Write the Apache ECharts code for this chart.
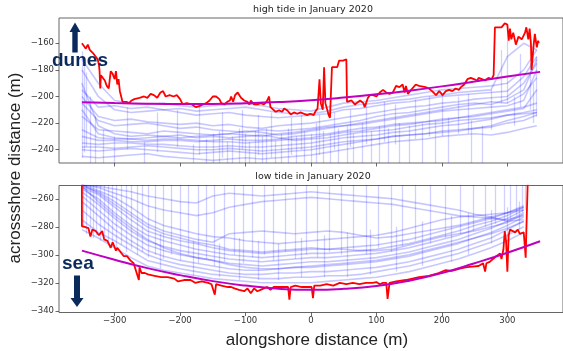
<!DOCTYPE html>
<html>
<head>
<meta charset="utf-8">
<script src="https://cdn.jsdelivr.net/npm/echarts@6/dist/echarts.min.js"></script>
<style>html,body{margin:0;padding:0;background:#fff;}#c{width:563px;height:351px;}</style>
</head>
<body>
<div id="c"></div>
<script>
// ---------- data ----------
const xTicks = [-300, -200, -100, 0, 100, 200, 300];
const yTicksHigh = [-240, -220, -200, -180, -160];
const yTicksLow = [-340, -320, -300, -280, -260];

const xHigh = [-350,-325,-300,-275,-250,-225,-200,-175,-150,-125,-100,-75,-50,-25,0,25,50,75,100,125,150,175,200,225,250,275,300,325,345];
const xLow  = [-350,-325,-300,-275,-250,-225,-200,-175,-150,-125,-100,-75,-50,-25,0,25,50,75,100,125,150,175,200,225,250,275,300,325];

// individual shorelines (blue), high tide
const blueHigh = [
 [-172,-190,-203,-205,-206,-205,-207,-208,-207,-206,-205,-207,-209,-210,-211,-208,-205,-204,-203,-201,-199,-197,-195,-194,-193,-192,-190,-180,-165],
 [-180,-200,-210,-212,-211,-210,-212,-214,-213,-212,-214,-215,-216,-215,-214,-213,-210,-209,-207,-205,-204,-202,-200,-199,-198,-197,-196,-185,-170],
 [-200,-215,-218,-217,-219,-220,-221,-220,-222,-221,-223,-224,-222,-221,-220,-218,-216,-214,-212,-210,-208,-207,-205,-204,-202,-201,-200,-190,-175],
 [-215,-225,-226,-227,-228,-226,-227,-228,-229,-228,-229,-230,-228,-227,-225,-223,-222,-221,-219,-217,-215,-213,-211,-210,-209,-208,-207,-203,-180],
 [-225,-231,-232,-232,-233,-232,-232,-233,-234,-234,-235,-234,-233,-232,-231,-229,-227,-226,-224,-222,-221,-219,-218,-216,-215,-213,-211,-209,-195],
 [-230,-233,-233,-234,-234,-233,-233,-234,-233,-232,-233,-233,-232,-230,-229,-228,-226,-224,-223,-221,-220,-219,-217,-216,-214,-212,-210,-208,-205],
 [-235,-236,-235,-235,-236,-236,-237,-238,-238,-237,-238,-238,-237,-236,-235,-233,-231,-230,-229,-227,-226,-224,-222,-221,-219,-217,-214,-212,-210],
 [-240,-241,-240,-239,-240,-241,-242,-243,-242,-241,-242,-243,-242,-241,-240,-238,-236,-234,-232,-230,-229,-228,-226,-225,-224,-223,-220,-218,-214],
 [-245,-246,-245,-244,-243,-245,-246,-247,-248,-247,-246,-247,-246,-245,-244,-242,-240,-238,-236,-234,-233,-232,-230,-229,-228,-229,-227,-224,-222],
 [-190,-222,-228,-230,-229,-230,-231,-230,-229,-228,-226,-227,-229,-228,-226,-224,-222,-220,-218,-216,-214,-212,-210,-208,-206,-204,-205,-198,-186],
 [-205,-218,-222,-221,-220,-222,-224,-223,-225,-226,-227,-225,-226,-225,-224,-222,-220,-218,-215,-213,-212,-210,-208,-206,-205,-206,-202,-195,-172],
 [-210,-228,-231,-232,-231,-230,-229,-231,-230,-231,-230,-229,-231,-233,-232,-231,-229,-227,-226,-225,-223,-221,-220,-218,-217,-216,-214,-213,-212],
 [-238,-238,-239,-238,-237,-238,-239,-240,-240,-239,-240,-241,-240,-239,-238,-236,-234,-233,-232,-230,-229,-228,-227,-226,-224,-222,-218,-215,-212],
 [-195,-208,-207,-209,-208,-210,-209,-211,-210,-209,-208,-210,-212,-213,-213,-211,-208,-206,-205,-203,-202,-200,-199,-197,-196,-195,-170,-160,-165]
];
// vertical jumps in the blue shorelines, high tide: [x, from, to]
const jumpsHigh = [
 [-349,-166,-246],[-346,-172,-242],[-343,-182,-238],[-338,-200,-250],[-330,-215,-250],[-318,-225,-250],[-300,-230,-250],
 [-255,-234,-250],[-180,-236,-250],[-160,-232,-250],[-150,-228,-250],[-140,-226,-250],[-128,-234,-250],[-120,-230,-250],
 [-110,-224,-250],[-100,-228,-250],[-95,-234,-250],[-85,-226,-250],[-75,-230,-250],[-68,-224,-250],[-55,-233,-250],
 [-45,-228,-250],[-35,-224,-250],[-22,-230,-250],[-10,-226,-250],[0,-228,-250],[8,-220,-250],[18,-226,-250],[30,-228,-250],
 [42,-224,-250],[55,-222,-250],[65,-228,-250],[78,-220,-250],[92,-226,-250],[105,-222,-250],[118,-224,-250],[135,-220,-250],
 [150,-222,-250],[170,-220,-250],[190,-218,-250],[210,-216,-250],[245,-218,-250],[262,-222,-250],
 [290,-205,-165],[300,-205,-158],[320,-208,-168],[335,-210,-175],
 [-280,-208,-240],[-235,-212,-242],[-205,-210,-238],[-170,-206,-244],[-135,-212,-246],[-105,-210,-240],[-80,-214,-244],
 [-60,-212,-246],[-30,-216,-244],[-15,-214,-240],[12,-214,-244],[36,-212,-240],[60,-210,-238],[85,-206,-236],[112,-204,-234],
 [128,-206,-236],[160,-202,-232],[180,-200,-230],[200,-198,-230],[225,-200,-228],[240,-198,-228],[275,-195,-225],[310,-200,-222],
 [340,-190,-220],[344,-170,-215]
];

// individual shorelines (blue), low tide
const blueLow = [
 [-282,-288,-295,-302,-308,-311,-313,-315,-317,-318,-319,-320,-320,-320,-320,-319,-318,-317,-316,-314,-312,-309,-306,-303,-299,-295,-290,-284],
 [-275,-284,-290,-297,-304,-307,-310,-312,-314,-315,-316,-317,-317,-316,-316,-315,-315,-314,-312,-310,-308,-305,-302,-299,-295,-291,-286,-280],
 [-268,-278,-286,-293,-300,-304,-307,-309,-311,-313,-314,-314,-313,-313,-312,-312,-311,-310,-309,-307,-305,-302,-299,-296,-292,-288,-282,-276],
 [-262,-272,-282,-290,-297,-301,-304,-306,-308,-310,-311,-311,-310,-309,-309,-308,-307,-306,-305,-303,-301,-298,-295,-292,-288,-284,-279,-273],
 [-258,-268,-278,-286,-293,-297,-300,-302,-304,-306,-307,-308,-307,-306,-305,-305,-304,-303,-302,-300,-298,-295,-292,-289,-285,-281,-276,-270],
 [-255,-264,-274,-283,-290,-294,-297,-299,-301,-303,-304,-305,-304,-303,-302,-302,-301,-300,-299,-297,-295,-292,-289,-286,-282,-278,-274,-268],
 [-253,-260,-270,-279,-286,-290,-293,-296,-298,-300,-301,-302,-301,-300,-299,-299,-298,-297,-296,-294,-292,-289,-286,-283,-279,-276,-272,-266],
 [-252,-257,-266,-275,-283,-287,-290,-292,-295,-297,-298,-299,-298,-297,-296,-296,-295,-294,-293,-291,-289,-286,-283,-280,-277,-274,-270,-265],
 [-251,-255,-262,-270,-278,-283,-286,-289,-291,-285,-284,-283,-284,-285,-284,-283,-284,-286,-288,-287,-285,-283,-281,-279,-276,-273,-270,-266],
 [-250,-254,-259,-266,-274,-279,-282,-285,-287,-288,-290,-291,-292,-291,-290,-289,-288,-287,-286,-284,-281,-278,-275,-273,-272,-271,-270,-268],
 [-250,-252,-256,-260,-265,-268,-270,-272,-270,-266,-264,-262,-261,-260,-259,-260,-261,-262,-263,-264,-266,-268,-270,-272,-273,-274,-275,-272],
 [-250,-251,-253,-255,-258,-260,-262,-263,-258,-256,-257,-258,-257,-256,-255,-256,-257,-258,-259,-260,-262,-264,-266,-268,-271,-273,-276,-275],
 [-250,-256,-264,-272,-280,-285,-288,-291,-293,-296,-297,-298,-297,-296,-295,-296,-296,-297,-297,-296,-293,-290,-287,-285,-283,-280,-277,-271],
 [-251,-262,-272,-281,-289,-295,-299,-302,-304,-307,-309,-310,-310,-309,-308,-307,-306,-305,-304,-302,-300,-297,-294,-291,-288,-285,-281,-276]
];
// vertical jumps in the blue shorelines, low tide: [x, from, to]
const jumpsLow = [
 [-348,-280,-250],[-343,-285,-250],[-338,-282,-250],[-333,-288,-250],[-328,-286,-250],[-322,-290,-250],[-316,-288,-250],
 [-310,-292,-250],[-304,-294,-250],[-297,-296,-250],[-290,-293,-250],[-282,-298,-250],[-275,-296,-250],[-266,-300,-250],
 [-258,-298,-250],[-248,-302,-250],[-238,-300,-250],[-226,-303,-250],[-214,-300,-250],[-200,-304,-250],[-188,-300,-250],
 [-172,-306,-250],[-160,-303,-250],[-148,-308,-250],[-132,-305,-250],[-118,-300,-250],[-104,-306,-250],[-90,-302,-250],
 [-72,-300,-250],[-58,-304,-250],[-40,-298,-250],[-24,-303,-250],[-8,-300,-250],[10,-302,-250],[28,-298,-250],[46,-300,-250],
 [64,-296,-250],[84,-300,-250],[102,-295,-250],[122,-298,-250],[140,-294,-250],[160,-290,-250],[182,-292,-250],[205,-288,-250],
 [228,-285,-250],[248,-283,-250],[266,-280,-250],[282,-278,-250],[295,-276,-250],[305,-275,-250],[314,-272,-250],[322,-270,-250],[327,-268,-250],
 [-230,-285,-310],[-180,-290,-315],[-140,-292,-316],[-110,-288,-318],[-80,-290,-318],[-50,-292,-318],[-15,-288,-316],[20,-286,-316],
 [55,-284,-316],[90,-282,-314],[130,-280,-312],[170,-276,-308],[215,-272,-305],[240,-270,-300],[275,-268,-292],[300,-266,-288],[318,-262,-282]
];

// January 2020 shoreline (red)
const redHigh = [
 [-350,-160],[-347,-162],[-344,-164],[-341,-161],[-338,-165],[-335,-164],[-332,-168],[-329,-167],[-326,-172],[-324,-176],[-323,-181],[-322,-194],[-321,-184],[-318,-185],[-315,-188],[-312,-192],[-309,-194],[-306,-181],[-303,-183],[-300,-187],[-298,-181],[-296,-191],[-294,-187],[-292,-196],[-290,-200],[-288,-204],[-286,-205],[-282,-204],[-278,-205],[-274,-203],[-270,-202],[-262,-201],[-255,-200],[-250,-201],[-245,-198],[-240,-199],[-235,-201],[-230,-197],[-226,-196],[-222,-200],[-216,-199],[-210,-200],[-205,-199],[-200,-202],[-196,-206],[-190,-205],[-182,-206],[-176,-208],[-170,-207],[-165,-206],[-160,-205],
 [-155,-203],[-150,-200],[-145,-200],[-140,-202],[-137,-205],[-132,-206],[-128,-204],[-124,-203],[-122,-200],[-119,-204],[-116,-199],[-112,-197],[-109,-198],[-107,-201],[-102,-203],[-97,-204],[-94,-206],[-92,-203],[-87,-206],[-82,-206],[-77,-205],[-72,-206],[-68,-204],[-64,-200],[-62,-208],[-59,-209],[-54,-211.5],[-49,-210.5],[-44,-211.5],[-41,-209],[-36,-210.5],[-31,-213.5],[-26,-212],[-21,-213],[-16,-212],[-11,-213],[-6,-214],[-1,-213],[4,-214],[7,-211],[10,-209],[13,-187],[15,-205],[18,-210],[20,-178],[22,-205],[27,-214],[29,-216],[32,-178],[34,-179],[40,-178],[43,-173],[49,-173],[54,-172],[55,-204],
 [57,-205],[62,-203],[67,-206],[75,-203],[80,-205],[82,-208],[87,-201],[90,-199],[95,-199],[100,-200],[105,-197],[110,-195],[115,-197],[118,-196],[120,-198],[125,-197],[130,-192],[135,-193],[140,-191],[143,-197],[145,-192],[148,-198],[153,-195],[155,-196],[160,-191],[165,-192],[168,-192],[175,-193],[180,-194],[185,-196],[191,-199],[196,-196],[201,-199],[206,-196],[211,-195],[216,-196],[221,-194],[226,-195],[229,-193],[234,-191],[239,-187],[244,-186],[249,-187],[254,-188],[256,-186],[261,-187],[266,-188],[271,-186],[276,-187],[279,-184],[281,-148],[291,-148],[296,-145],[300,-146],[302,-158],[304,-149],[306,-157],[309,-152],[313,-161],[317,-155],[322,-157],[327,-152],[329,-148],[332,-157],[334,-149],[336,-160],[337,-180],[340,-162],[342,-153],[345,-163],[347,-158],[348,-160]
];
const redLow = [
 [-350,-250],[-350,-279.6],[-346,-280],[-340,-281],[-337,-287],[-334,-282],[-329,-283],[-324,-286],[-319,-283],[-316,-289],[-311,-290],[-306,-295],[-303,-291],[-298,-297],[-296,-295],[-291,-298],[-286,-301],[-281,-301],[-276,-304],[-271,-306],[-263,-318],[-262,-309],[-259,-313],[-254,-313],[-249,-314],[-239,-315],[-229,-316],[-219,-316],[-209,-317],[-203,-319],[-194,-318],[-184,-318],[-177,-320],[-167,-319],[-157,-320],[-152,-321],[-147,-328.5],[-145,-321],[-137,-322],[-127,-323],[-122,-323],[-117,-324],[-110,-325],[-102,-326],[-97,-324],[-92,-327.5],[-87,-324],[-82,-326],[-77,-325],[-72,-324],[-67,-323],[-62,-325],[-57,-323],[-47,-323],[-35,-323],[-33,-332],[-31,-323],[-24,-322],[-14,-323],[-4,-323],[1,-323],[3,-331],[5,-322],[14,-322],[24,-321],[34,-322],[44,-320],[54,-321],[64,-320],[74,-321],[84,-320],[94,-320],[100,-319.5],[105,-321],[110,-320],[115,-320],[117,-331.5],[120,-320],[130,-319],[145,-318],[155,-317],[165,-316],[180,-315],[195,-313],[205,-311],[215,-311.5],[226,-310],[236,-309],[246,-308.5],[256,-308],[263,-306],[266,-312],[268,-306],[273,-305],[278,-303],[283,-301],[286,-302],[289,-299],[291,-303],[294,-296],[296,-283],[298,-290],[300,-312],[302,-286],[304,-282],[307,-283],[312,-284],[316,-282],[319,-285],[322,-286],[325,-284],[327,-284],[328,-302],[329,-283],[331,-250]
];

// fitted curve (magenta)
const fitX = [-350,-300,-250,-200,-150,-100,-50,0,50,100,150,200,250,300,350];
const fitHigh = [-204.3,-204.9,-205.4,-205.6,-205.6,-205.1,-204.2,-202.8,-200.8,-198.4,-195.6,-192.4,-188.8,-185.0,-181.5];
const fitLow  = [-297.0,-303.5,-309.5,-314.5,-318.8,-322.0,-324.2,-325.0,-324.3,-322.3,-318.5,-313.0,-306.0,-298.5,-290.3];

// ---------- chart ----------
const chart = echarts.init(document.getElementById('c'), null, {renderer: 'canvas'});
const minus = v => String(v).replace('-', '\u2212');
const tickFont = {fontSize: 8.5, color: '#333', fontFamily: 'DejaVu Sans', formatter: minus};
const BLUE = {color: '#0000ff', opacity: 0.22, width: 1.6};
const BLUEJ = {color: '#0000ff', opacity: 0.18, width: 1.3};

function xAxisCfg(gi, showLabels) {
  return {
    type: 'value', gridIndex: gi, min: -385, max: 385,
    axisLine: {show: false, onZero: false}, splitLine: {show: false},
    axisTick: {show: true, length: 3.5, lineStyle: {color: '#444', width: 0.8}, customValues: xTicks},
    axisLabel: Object.assign({show: showLabels, margin: 4, customValues: xTicks}, tickFont)
  };
}
function yAxisCfg(gi, mn, mx, ticks) {
  return {
    type: 'value', gridIndex: gi, min: mn, max: mx,
    axisLine: {show: false, onZero: false}, splitLine: {show: false},
    axisTick: {show: true, length: 3.5, lineStyle: {color: '#444', width: 0.8}, customValues: ticks},
    axisLabel: Object.assign({margin: 5, customValues: ticks}, tickFont)
  };
}

const series = [];
blueHigh.forEach(arr => series.push({
  type: 'line', xAxisIndex: 0, yAxisIndex: 0, symbol: 'none', silent: true,
  data: arr.map((v, i) => [xHigh[i], v]), lineStyle: BLUE
}));
series.push({
  type: 'lines', coordinateSystem: 'cartesian2d', xAxisIndex: 0, yAxisIndex: 0, silent: true,
  data: jumpsHigh.map(j => ({coords: [[j[0], j[1]], [j[0], j[2]]]})), lineStyle: BLUEJ
});
blueLow.forEach(arr => series.push({
  type: 'line', xAxisIndex: 1, yAxisIndex: 1, symbol: 'none', silent: true,
  data: arr.map((v, i) => [xLow[i], v]), lineStyle: BLUE
}));
series.push({
  type: 'lines', coordinateSystem: 'cartesian2d', xAxisIndex: 1, yAxisIndex: 1, silent: true,
  data: jumpsLow.map(j => ({coords: [[j[0], j[1]], [j[0], j[2]]]})), lineStyle: BLUEJ
});
series.push({type: 'line', xAxisIndex: 0, yAxisIndex: 0, symbol: 'none', data: redHigh, lineStyle: {color: '#ff0000', width: 1.8}});
series.push({type: 'line', xAxisIndex: 1, yAxisIndex: 1, symbol: 'none', data: redLow, lineStyle: {color: '#ff0000', width: 1.8}});
series.push({type: 'line', xAxisIndex: 0, yAxisIndex: 0, symbol: 'none', smooth: true, data: fitX.map((x, i) => [x, fitHigh[i]]), lineStyle: {color: '#bf00bf', width: 2}});
series.push({type: 'line', xAxisIndex: 1, yAxisIndex: 1, symbol: 'none', smooth: true, data: fitX.map((x, i) => [x, fitLow[i]]), lineStyle: {color: '#bf00bf', width: 2}});

const NAVY = '#0b2a5c';
chart.setOption({
  animation: false,
  backgroundColor: '#fff',
  grid: [
    {left: 59, top: 18, width: 509, height: 145, show: true, borderColor: '#666', borderWidth: 1, backgroundColor: 'transparent'},
    {left: 59, top: 185.5, width: 509, height: 127, show: true, borderColor: '#666', borderWidth: 1, backgroundColor: 'transparent'}
  ],
  xAxis: [xAxisCfg(0, false), xAxisCfg(1, true)],
  yAxis: [yAxisCfg(0, -250, -141, yTicksHigh), yAxisCfg(1, -341.2, -250.5, yTicksLow)],
  series: series,
  graphic: [
    {type: 'text', x: 313, y: 9.5, style: {text: 'high tide in January 2020', font: '9.5px "DejaVu Sans"', fill: '#222', align: 'center', verticalAlign: 'middle'}},
    {type: 'text', x: 313, y: 177, style: {text: 'low tide in January 2020', font: '9.5px "DejaVu Sans"', fill: '#222', align: 'center', verticalAlign: 'middle'}},
    {type: 'text', x: 317, y: 340, style: {text: 'alongshore distance (m)', font: '17px "Liberation Sans"', fill: '#222', align: 'center', verticalAlign: 'middle'}},
    {type: 'text', x: 15, y: 168, rotation: Math.PI / 2, style: {text: 'acrossshore distance (m)', font: '17px "Liberation Sans"', fill: '#222', align: 'center', verticalAlign: 'middle'}},
    {type: 'text', x: 52, y: 70, z: 100, style: {text: 'dunes', font: 'bold 19px "Liberation Sans"', fill: NAVY, align: 'left', verticalAlign: 'bottom'}},
    {type: 'text', x: 62, y: 273, z: 100, style: {text: 'sea', font: 'bold 19px "Liberation Sans"', fill: NAVY, align: 'left', verticalAlign: 'bottom'}},
    {type: 'polygon', z: 100, shape: {points: [[72.3, 52.5], [77.7, 52.5], [77.7, 32], [80.5, 32], [75, 22.5], [69.5, 32], [72.3, 32]]}, style: {fill: NAVY}},
    {type: 'polygon', z: 100, shape: {points: [[74, 275.5], [80, 275.5], [80, 298], [83.5, 298], [77, 307], [70.5, 298], [74, 298]]}, style: {fill: NAVY}}
  ]
});
</script>
</body>
</html>
